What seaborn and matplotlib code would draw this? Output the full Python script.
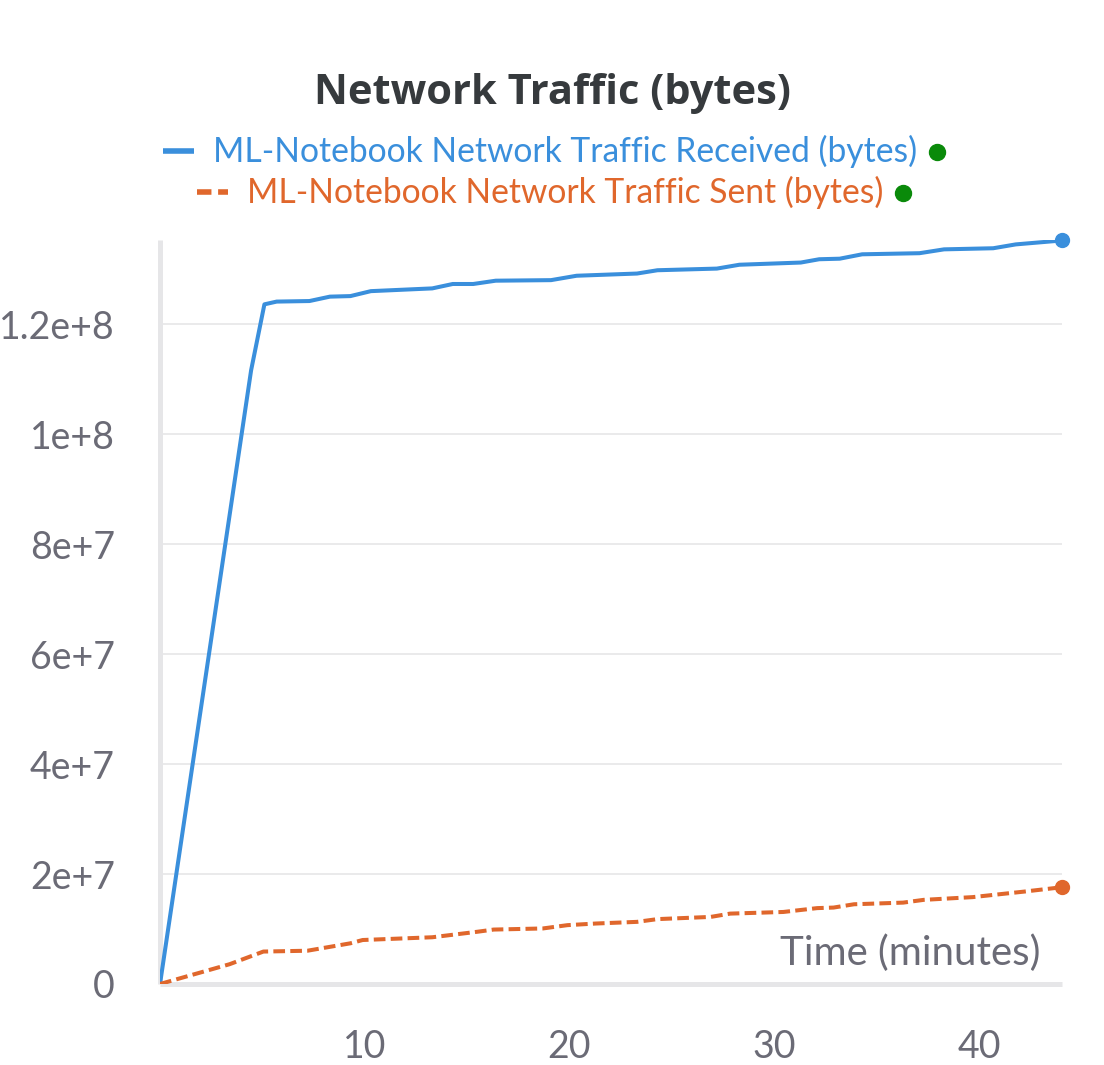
import matplotlib
matplotlib.use("Agg")
import matplotlib.pyplot as plt
import seaborn as sns
import pandas as pd
from matplotlib.lines import Line2D

# ---- data (minutes, bytes) ----
recv_t = [0, 4.45, 5.1, 5.7, 7.3, 8.3, 9.3, 10.3, 13.3, 14.3, 15.3, 16.4, 19.1, 20.35,
          23.3, 24.3, 27.2, 28.3, 31.3, 32.2, 33.2, 34.3, 37.1, 38.3, 40.7, 41.8, 43.7, 44.06]
recv_v = [0, 111.6e6, 123.6e6, 124.1e6, 124.2e6, 125.0e6, 125.1e6, 126.0e6, 126.5e6, 127.3e6,
          127.3e6, 127.9e6, 128.0e6, 128.8e6, 129.2e6, 129.8e6, 130.1e6, 130.8e6, 131.2e6,
          131.8e6, 131.9e6, 132.7e6, 132.9e6, 133.6e6, 133.8e6, 134.5e6, 135.1e6, 135.3e6]
sent_t = [0, 3.4, 5.05, 7.2, 9.3, 9.9, 13.3, 15.5, 16.3, 18.7, 19.9, 21.3, 23.3, 24.3, 26.9,
          27.85, 30.45, 32.1, 32.9, 33.9, 36.3, 37.3, 39.7, 40.7, 42.2, 44.06]
sent_v = [0, 3.6e6, 5.9e6, 6.05e6, 7.4e6, 8.0e6, 8.5e6, 9.5e6, 9.9e6, 10.1e6, 10.7e6, 11.0e6,
          11.3e6, 11.8e6, 12.2e6, 12.8e6, 13.1e6, 13.8e6, 13.9e6, 14.5e6, 14.8e6, 15.3e6,
          15.8e6, 16.2e6, 16.8e6, 17.6e6]
y_ticks = [0, 2e7, 4e7, 6e7, 8e7, 1e8, 1.2e8]
y_tick_labels = ["0", "2e+7", "4e+7", "6e+7", "8e+7", "1e+8", "1.2e+8"]
x_ticks = [10, 20, 30, 40]
x_tick_labels = ["10", "20", "30", "40"]
title = "Network Traffic (bytes)"
label_recv = "ML-Notebook Network Traffic Received (bytes)"
label_sent = "ML-Notebook Network Traffic Sent (bytes)"
x_label = "Time (minutes)"

BLUE = "#3a8fdc"
ORANGE = "#e0672c"
GRAY_TXT = "#6b6b76"
GRID = "#e6e6e8"
FONT = "Lato"

sns.set_theme(style="white")
plt.rcParams["font.family"] = [FONT, "DejaVu Sans"]

W, H = 1104, 1065
fig = plt.figure(figsize=(W / 100, H / 100), dpi=100)
ax = fig.add_axes([160 / W, 1 - 984 / H, (1062 - 160) / W, (984 - 240) / H])

df_r = pd.DataFrame({"t": recv_t, "v": recv_v})
df_s = pd.DataFrame({"t": sent_t, "v": sent_v})
sns.lineplot(data=df_r, x="t", y="v", ax=ax, color=BLUE, lw=2.9, zorder=4,
             estimator=None, sort=False)
sns.lineplot(data=df_s, x="t", y="v", ax=ax, color=ORANGE, lw=2.9, zorder=4,
             estimator=None, sort=False, dashes=False)
ax.lines[1].set_dashes([2.9, 1.3])
ax.plot([recv_t[-1]], [recv_v[-1]], "o", color=BLUE, ms=10, zorder=5, clip_on=False)
ax.plot([sent_t[-1]], [sent_v[-1]], "o", color=ORANGE, ms=10, zorder=5, clip_on=False)

ax.set_xlim(0, recv_t[-1])
ax.set_ylim(0, recv_v[-1])
ax.set_xlabel("")
ax.set_ylabel("")
ax.set_xticks(x_ticks)
ax.set_xticklabels(x_tick_labels)
ax.set_yticks(y_ticks)
ax.set_yticklabels(y_tick_labels)
ax.yaxis.grid(True, color=GRID, lw=1.2)
ax.xaxis.grid(False)
for s in ["top", "right"]:
    ax.spines[s].set_visible(False)
for s in ["left", "bottom"]:
    ax.spines[s].set_color(GRID)
    ax.spines[s].set_linewidth(3.6)
    ax.spines[s].set_capstyle("butt")
ax.tick_params(axis="both", direction="inout", length=25, width=2.0, color=GRID,
               labelcolor=GRAY_TXT, labelsize=27, pad=20)

fig.text(1040 / W, 1 - 965 / H, x_label, ha="right", va="baseline", color=GRAY_TXT,
         fontsize=29)

fig.text(552 / W, 1 - 104 / H, title, ha="center", va="baseline", color="#363a3d",
         fontsize=30, fontweight="bold", family=["Open Sans", "DejaVu Sans"])

# legend rows, each centred
fig.canvas.draw()
renderer = fig.canvas.get_renderer()
center = 554
for (lab, col, dashed, yc) in [(label_recv, BLUE, False, 151), (label_sent, ORANGE, True, 192)]:
    t = fig.text(0, 0, lab, color=col, fontsize=24.2, va="center")
    w = t.get_window_extent(renderer).width
    handle_w, gap1, gap2, dot_d = 31, 19, 12, 16
    total = handle_w + gap1 + w + gap2 + dot_d
    x0 = center - total / 2
    t.set_position(((x0 + handle_w + gap1) / W, 1 - yc / H))
    ln = Line2D([x0 / W, (x0 + handle_w) / W], [1 - yc / H] * 2, color=col, lw=4,
                transform=fig.transFigure, solid_capstyle="butt")
    if dashed:
        ln.set_dashes([2.6, 1.2])
    fig.add_artist(ln)
    dx = x0 + handle_w + gap1 + w + gap2 + dot_d / 2
    fig.add_artist(Line2D([dx / W], [1 - (yc + 1) / H], marker="o", ms=11.5, color="#0a8a0a",
                          lw=0, transform=fig.transFigure))

fig.savefig("out.png", dpi=100)
